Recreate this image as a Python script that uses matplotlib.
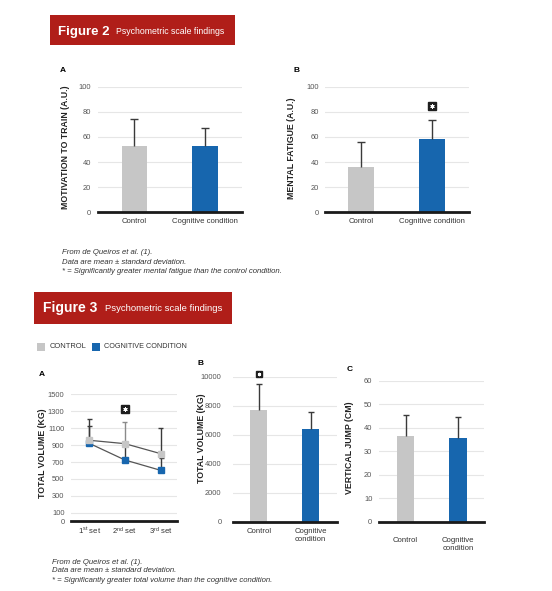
import matplotlib
matplotlib.use("Agg")
import matplotlib.pyplot as plt
from matplotlib.patches import Rectangle

# ---------------- data ----------------
fig2_categories = ["Control", "Cognitive condition"]
motivation_mean = [53, 53]
motivation_sd = [21, 14]
fatigue_mean = [36, 58]
fatigue_sd = [20, 15.5]

set_labels = ["1$^{\\mathrm{st}}$ set", "2$^{\\mathrm{nd}}$ set", "3$^{\\mathrm{rd}}$ set"]
control_sets_mean = [957, 917, 799]
control_sets_sd = [248, 252, 299]
cognitive_sets_mean = [921, 724, 602]
cognitive_sets_sd = [209, 190, 142]

fig3_categories = ["Control", "Cognitive\ncondition"]
total_volume_mean = [7700, 6410]
total_volume_sd = [1820, 1150]
jump_mean = [36.3, 35.6]
jump_sd = [8.9, 8.8]

# ---------------- style ----------------
W, H = 552, 591
plt.rcParams['font.family'] = ['Liberation Sans', 'DejaVu Sans']
plt.rcParams['mathtext.fontset'] = 'custom'
plt.rcParams['mathtext.rm'] = 'Liberation Sans'
plt.rcParams['mathtext.it'] = 'Liberation Sans:italic'
plt.rcParams['mathtext.bf'] = 'Liberation Sans:bold'

GRAY = '#c6c6c6'
BLUE = '#1766ae'
RED = '#b01e19'
ERR = '#3a3a3a'
TICK = '#555555'
GRID = '#e6e6e6'

fig = plt.figure(figsize=(W / 100, H / 100), dpi=100)


def rect(left, top, right, bottom):
    return [left / W, 1 - bottom / H, (right - left) / W, (bottom - top) / H]


def ftext(x, y, s, **kw):
    fig.text(x / W, 1 - y / H, s, **kw)


def style_axes(ax, yticks, ypad, xpad):
    ax.set_yticks(yticks)
    ax.set_ylim(yticks[0], yticks[-1])
    for sp in ['top', 'right', 'left']:
        ax.spines[sp].set_visible(False)
    ax.spines['bottom'].set_linewidth(2.0)
    ax.spines['bottom'].set_color('#1a1a1a')
    ax.tick_params(axis='y', length=0, pad=ypad, labelsize=5.4, labelcolor=TICK)
    ax.tick_params(axis='x', length=0, pad=xpad, labelsize=5.6, labelcolor='#333333')
    for t in yticks[1:]:
        ax.axhline(t, color=GRID, lw=0.8, zorder=0)
    ax.set_facecolor('none')


def star(ax, x, y, box=6.0, size=3.0):
    ax.plot([x], [y], marker='s', ms=box, mfc='#1e1e1e', mec='#1e1e1e', zorder=6,
            clip_on=False)
    ax.plot([x], [y], marker=(6, 2, 0), ms=size, mec='white', mew=0.7, zorder=7,
            clip_on=False)


def up_err(ax, xs, means, sds, capsize, colors=None, z=3):
    cont = ax.errorbar(xs, means, yerr=[[0] * len(sds), sds], fmt='none', ecolor=ERR,
                       elinewidth=1.0, capsize=capsize, capthick=1.0, zorder=z)
    _, caps, bars = cont.lines
    caps[0].set_visible(False)  # hide the cap at the mean
    if colors is not None:
        bars[0].set_color(colors)
        caps[1].set_visible(False)
        ax.scatter(xs, [m + s for m, s in zip(means, sds)], marker='_',
                   s=(2 * capsize) ** 2, c=colors, linewidths=1.0, zorder=z)
    return cont


def bar_panel(ax, cats, means, sds, width, capsize):
    xs = list(range(len(cats)))
    ax.bar(xs, means, width=width, color=[GRAY, BLUE], zorder=2)
    up_err(ax, xs, means, sds, capsize)
    ax.set_xticks(xs)
    ax.set_xticklabels(cats)


# ---------------- header boxes ----------------
fig.add_artist(Rectangle((50 / W, 1 - 45 / H), 185 / W, 30 / H, transform=fig.transFigure,
                         fc=RED, ec='none'))
ftext(58, 31.5, 'Figure 2', color='white', fontsize=9.5, fontweight='bold', va='center')
ftext(116, 32, 'Psychometric scale findings', color='white', fontsize=6.3, va='center')

fig.add_artist(Rectangle((34 / W, 1 - 324 / H), 198 / W, 32 / H, transform=fig.transFigure,
                         fc=RED, ec='none'))
ftext(43, 308, 'Figure 3', color='white', fontsize=10, fontweight='bold', va='center')
ftext(105, 308.5, 'Psychometric scale findings', color='white', fontsize=6.8, va='center')

# ---------------- Figure 2 A ----------------
axA = fig.add_axes(rect(98.3, 86.7, 241.7, 212.3))
bar_panel(axA, fig2_categories, motivation_mean, motivation_sd, 0.36, 2.9)
axA.set_xlim(-0.51, 1.52)
style_axes(axA, [0, 20, 40, 60, 80, 100], 5, 4)
ftext(63, 71, 'A', fontsize=6, fontweight='bold', ha='center', va='center')
ftext(65, 147.5, 'MOTIVATION TO TRAIN (A.U.)', fontsize=6.3, fontweight='bold',
      rotation=90, ha='center', va='center', color='#222222')

# ---------------- Figure 2 B ----------------
axB = fig.add_axes(rect(325, 86.7, 469, 212.3))
bar_panel(axB, fig2_categories, fatigue_mean, fatigue_sd, 0.36, 2.9)
axB.set_xlim(-0.51, 1.52)
style_axes(axB, [0, 20, 40, 60, 80, 100], 4.5, 4)
star(axB, 1, 85)
ftext(296, 71, 'B', fontsize=6, fontweight='bold', ha='center', va='center')
ftext(291.7, 148.3, 'MENTAL FATIGUE (A.U.)', fontsize=6.3, fontweight='bold',
      rotation=90, ha='center', va='center', color='#222222')

# footnote fig 2
for yy, s in zip([252.3, 262, 271.3],
                 ['From de Queiros et al. (1).', 'Data are mean \u00b1 standard deviation.',
                  '* = Significantly greater mental fatigue than the control condition.']):
    ftext(61.7, yy, s, fontsize=5.6, style='italic', va='center', color='#333333')

# ---------------- legend fig 3 ----------------
fig.add_artist(Rectangle((37.3 / W, 1 - 350.7 / H), 7.7 / W, 8 / H, transform=fig.transFigure,
                         fc=GRAY, ec='none'))
ftext(49.3, 346.7, 'CONTROL', fontsize=5.4, va='center', color='#333333')
fig.add_artist(Rectangle((92.3 / W, 1 - 350.7 / H), 7.7 / W, 8 / H, transform=fig.transFigure,
                         fc=BLUE, ec='none'))
ftext(104, 346.7, 'COGNITIVE CONDITION', fontsize=5.2, va='center', color='#333333')

# ---------------- Figure 3 A ----------------
ax3a = fig.add_axes(rect(70.7, 394.3, 176.7, 521.3))
xs = list(range(len(set_labels)))
up_err(ax3a, xs, cognitive_sets_mean, cognitive_sets_sd, 1.8, z=3)
up_err(ax3a, xs, control_sets_mean, control_sets_sd, 1.8,
       colors=[ERR, '#8a8a8a', ERR], z=3)
ax3a.plot(xs, control_sets_mean, color='#555555', lw=0.9, marker='s', ms=4.2,
          mfc=GRAY, mec=GRAY, zorder=5)
ax3a.plot(xs, cognitive_sets_mean, color='#555555', lw=0.9, marker='s', ms=4.2,
          mfc=BLUE, mec=BLUE, zorder=4)
ax3a.set_xticks(xs)
ax3a.set_xticklabels(set_labels)
ax3a.set_xlim(-0.52, 2.45)
style_axes(ax3a, [0, 100, 300, 500, 700, 900, 1100, 1300, 1500], 4.5, 3.5)
ax3a.set_ylim(0, 1500)
star(ax3a, 1, 1323)
ftext(41.7, 375, 'A', fontsize=6, fontweight='bold', ha='center', va='center')
ftext(42.7, 453, 'TOTAL VOLUME (KG)', fontsize=6.3, fontweight='bold',
      rotation=90, ha='center', va='center', color='#222222')

# ---------------- Figure 3 B ----------------
ax3b = fig.add_axes(rect(232.7, 376.7, 336.7, 521.7))
bar_panel(ax3b, fig3_categories, total_volume_mean, total_volume_sd, 0.33, 2.0)
ax3b.set_xlim(-0.5, 1.5)
style_axes(ax3b, [0, 2000, 4000, 6000, 8000, 10000], 8, 4.5)
star(ax3b, 0, 10161, box=4.8, size=2.4)
ftext(200, 363.3, 'B', fontsize=6, fontweight='bold', ha='center', va='center')
ftext(201.7, 438, 'TOTAL VOLUME (KG)', fontsize=6.3, fontweight='bold',
      rotation=90, ha='center', va='center', color='#222222')

# ---------------- Figure 3 C ----------------
ax3c = fig.add_axes(rect(379.3, 380.7, 484.3, 521.7))
bar_panel(ax3c, fig3_categories, jump_mean, jump_sd, 0.33, 2.0)
ax3c.set_xlim(-0.5, 1.5)
style_axes(ax3c, [0, 10, 20, 30, 40, 50, 60], 5, 11)
ftext(349.3, 369.3, 'C', fontsize=6, fontweight='bold', ha='center', va='center')
ftext(349.3, 447.5, 'VERTICAL JUMP (CM)', fontsize=6.3, fontweight='bold',
      rotation=90, ha='center', va='center', color='#222222')

# footnote fig 3
for yy, s in zip([562, 571, 580],
                 ['From de Queiros et al. (1).', 'Data are mean \u00b1 standard deviation.',
                  '* = Significantly greater total volume than the cognitive condition.']):
    ftext(51.7, yy, s, fontsize=5.6, style='italic', va='center', color='#333333')

fig.savefig('out.png', dpi=100)
